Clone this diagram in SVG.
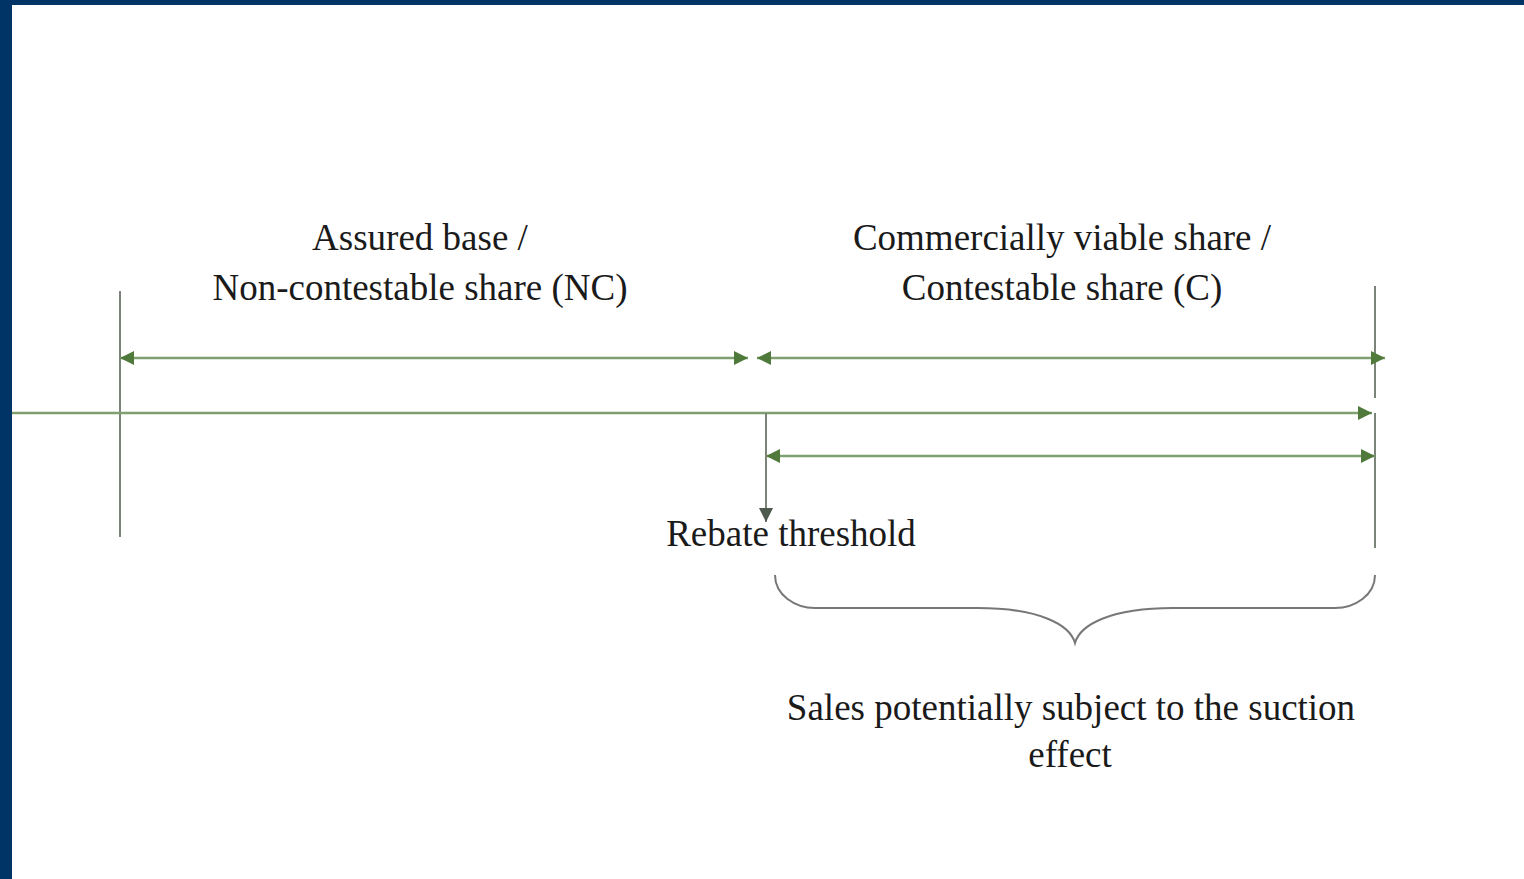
<svg xmlns="http://www.w3.org/2000/svg" width="1524" height="879" viewBox="0 0 1524 879">
<defs>
<marker id="ah" viewBox="0 0 10 10" refX="10" refY="5" markerWidth="14" markerHeight="14" markerUnits="userSpaceOnUse" orient="auto-start-reverse">
<path d="M0,0 L10,5 L0,10 z" fill="#4f7a3b"/>
</marker>
<marker id="ahg" viewBox="0 0 10 10" refX="10" refY="5" markerWidth="14" markerHeight="14" markerUnits="userSpaceOnUse" orient="auto">
<path d="M0,0 L10,5 L0,10 z" fill="#4f5a4f"/>
</marker>
</defs>
<style>
.t{font-size:37px;fill:#1a1a1a;text-anchor:middle}
.arr{stroke:#7f9f70;stroke-width:2.5;fill:none}
.vl{stroke:#7a8478;stroke-width:2;fill:none}
.br{stroke:#777;stroke-width:2;fill:none}
</style>
<rect x="0" y="0" width="1524" height="879" fill="#ffffff"/>
<rect x="0" y="0" width="1524" height="5" fill="#003366"/>
<rect x="0" y="0" width="12" height="879" fill="#003366"/>
<g id="connectors">
<line class="vl" x1="120" y1="291" x2="120" y2="537"/>
<line class="vl" x1="1375" y1="286" x2="1375" y2="398"/>
<line class="vl" x1="1375" y1="413" x2="1375" y2="548"/>
<line class="arr" x1="12" y1="413" x2="1372" y2="413" marker-end="url(#ah)"/>
<line class="arr" x1="120" y1="358" x2="748" y2="358" marker-start="url(#ah)" marker-end="url(#ah)"/>
<line class="arr" x1="757" y1="358" x2="1385" y2="358" marker-start="url(#ah)" marker-end="url(#ah)"/>
<line class="arr" x1="766" y1="456" x2="1375" y2="456" marker-start="url(#ah)" marker-end="url(#ah)"/>
<line class="vl" x1="766" y1="413" x2="766" y2="522" stroke="#8a918a" marker-end="url(#ahg)"/>
<path class="br" d="M775,575 C775,595 795,608 815,608 L977,608 C1040,608 1070,625 1075,643 C1080,625 1110,608 1173,608 L1335,608 C1355,608 1375,595 1375,575"/>
</g>
<g id="label-nc" font-family="Liberation Serif, Tinos, Times New Roman, serif">
<text class="t" x="420" y="250">Assured base /</text>
<text class="t" x="420" y="300">Non-contestable share (NC)</text>
</g>
<g id="label-c" font-family="Liberation Serif, Tinos, Times New Roman, serif">
<text class="t" x="1062" y="250">Commercially viable share /</text>
<text class="t" x="1062" y="300">Contestable share (C)</text>
</g>
<g id="label-threshold" font-family="Liberation Serif, Tinos, Times New Roman, serif">
<text class="t" x="791" y="546">Rebate threshold</text>
</g>
<g id="label-suction" font-family="Liberation Serif, Tinos, Times New Roman, serif">
<text class="t" x="1071" y="720">Sales potentially subject to the suction</text>
<text class="t" x="1070" y="767">effect</text>
</g>
</svg>
